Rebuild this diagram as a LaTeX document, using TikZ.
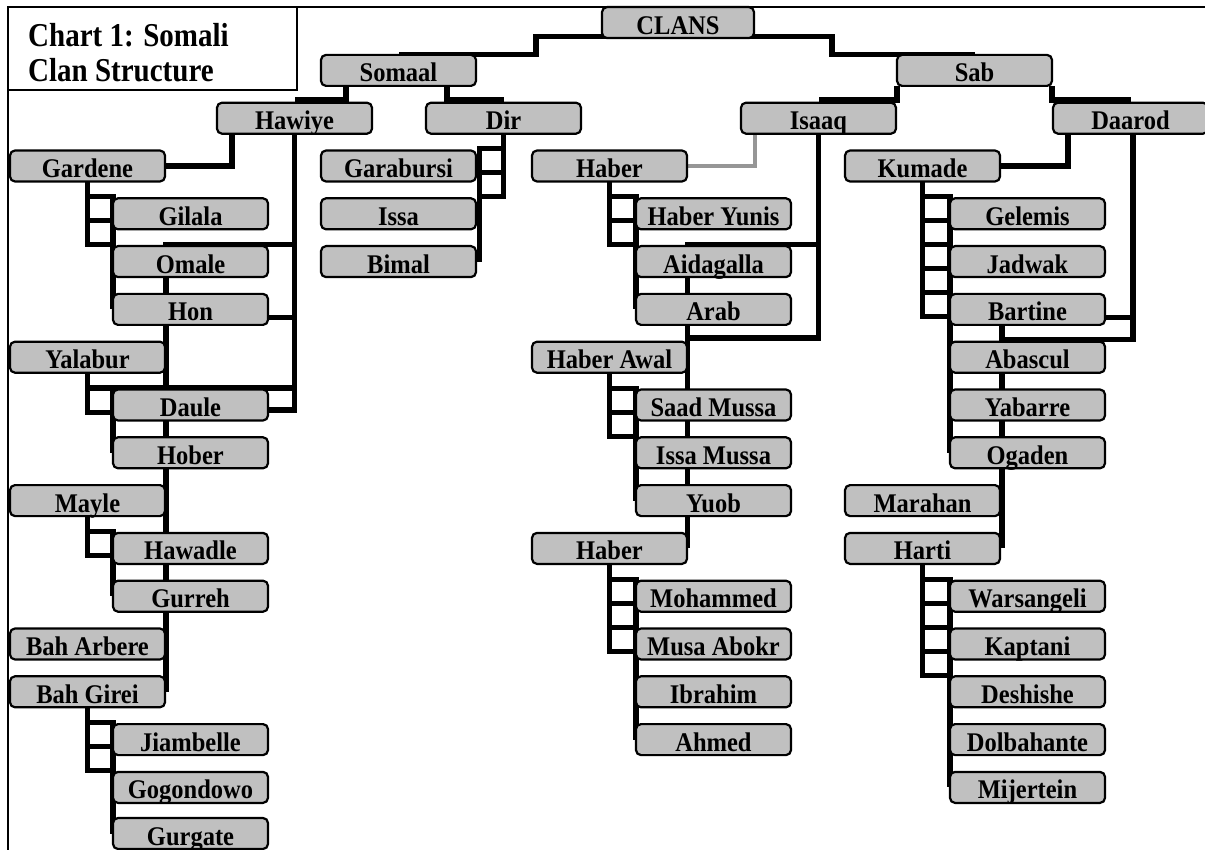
\documentclass[tikz,border=0pt]{standalone}
\usepackage{fontspec}
\setmainfont{Liberation Serif}
\usetikzlibrary{calc,backgrounds}
\definecolor{boxgray}{RGB}{192,192,192}
\definecolor{linkgray}{RGB}{150,150,150}
\newcommand\clanbox[4]{\node[box] (#1) at ({#2+77.5},{22.6+47.8*#3}) {\scalebox{1}[1.1]{#4}};}
\newcommand\clanladder[5]{%
  \draw[conn] (#1.south) -- ($(#1.south |- #2.north)+(0,{24*(#3-1)-1.5})$);
  \draw[conn] ($(#2.north west)+(#5,-1.5)$) -- ($(#2.west |- #4.west)+(#5,0)$);
  \foreach \ri in {1,...,#3} {\draw[rung] ($(#1.south |- #2.north)+(0,{24*(\ri-1)-1.5})$) -- ($(#2.north west)+(#5,{24*(\ri-1)-1.5})$);}
}
\begin{document}
\begin{tikzpicture}[x=1pt,y=-1pt,
  box/.style={draw=black, line width=2.2pt, fill=boxgray, rounded corners=5pt,
    minimum width=155pt, minimum height=31pt, inner sep=0pt, outer sep=0pt,
    text height=26pt, text depth=3pt, font=\fontsize{24.5}{26}\selectfont\bfseries},
  conn/.style={draw=black, line width=5.5pt, line join=miter},
  rung/.style={draw=black, line width=5pt, line cap=rect},
  frame/.style={draw=black, line width=2pt},
  titletext/.style={anchor=base west, inner sep=0pt, font=\fontsize{29}{30}\selectfont\bfseries}]
\useasboundingbox (0,0) rectangle (1205,850);
\begin{scope}
\clip (0,0) rectangle (1205,850);
% frame and title
\draw[frame] (8,850) -- (8,7) -- (1205,7);
\draw[frame] (8,90) -- (297,90) -- (297,7);
\node[titletext] (title1) at (28,47) {\scalebox{1}[1.15]{Chart 1: Somali}};
\node[titletext] (title2) at (28,82) {\scalebox{1}[1.15]{Clan Structure}};
% boxes
\node[box, minimum width=152pt] (CLANS) at (678,22.6) {\scalebox{1}[1.1]{CLANS}};
\clanbox{Somaal}{321}{1}{Somaal}
\clanbox{Sab}{897}{1}{Sab}
\clanbox{Hawiye}{217}{2}{Hawiye}
\clanbox{Dir}{426}{2}{Dir}
\clanbox{Isaaq}{741}{2}{Isaaq}
\clanbox{Daarod}{1053}{2}{Daarod}
\clanbox{Gardene}{10}{3}{Gardene}
\clanbox{Garabursi}{321}{3}{Garabursi}
\clanbox{Haber}{532}{3}{Haber}
\clanbox{Kumade}{845}{3}{Kumade}
\clanbox{Gilala}{113}{4}{Gilala}
\clanbox{Issa}{321}{4}{Issa}
\clanbox{HaberYunis}{636}{4}{Haber Yunis}
\clanbox{Gelemis}{950}{4}{Gelemis}
\clanbox{Omale}{113}{5}{Omale}
\clanbox{Bimal}{321}{5}{Bimal}
\clanbox{Aidagalla}{636}{5}{Aidagalla}
\clanbox{Jadwak}{950}{5}{Jadwak}
\clanbox{Hon}{113}{6}{Hon}
\clanbox{Arab}{636}{6}{Arab}
\clanbox{Bartine}{950}{6}{Bartine}
\clanbox{Yalabur}{10}{7}{Yalabur}
\clanbox{HaberAwal}{532}{7}{Haber Awal}
\clanbox{Abascul}{950}{7}{Abascul}
\clanbox{Daule}{113}{8}{Daule}
\clanbox{SaadMussa}{636}{8}{Saad Mussa}
\clanbox{Yabarre}{950}{8}{Yabarre}
\clanbox{Hober}{113}{9}{Hober}
\clanbox{IssaMussa}{636}{9}{Issa Mussa}
\clanbox{Ogaden}{950}{9}{Ogaden}
\clanbox{Mayle}{10}{10}{Mayle}
\clanbox{Yuob}{636}{10}{Yuob}
\clanbox{Marahan}{845}{10}{Marahan}
\clanbox{Hawadle}{113}{11}{Hawadle}
\clanbox{Haber2}{532}{11}{Haber}
\clanbox{Harti}{845}{11}{Harti}
\clanbox{Gurreh}{113}{12}{Gurreh}
\clanbox{Mohammed}{636}{12}{Mohammed}
\clanbox{Warsangeli}{950}{12}{Warsangeli}
\clanbox{BahArbere}{10}{13}{Bah Arbere}
\clanbox{MusaAbokr}{636}{13}{Musa Abokr}
\clanbox{Kaptani}{950}{13}{Kaptani}
\clanbox{BahGirei}{10}{14}{Bah Girei}
\clanbox{Ibrahim}{636}{14}{Ibrahim}
\clanbox{Deshishe}{950}{14}{Deshishe}
\clanbox{Jiambelle}{113}{15}{Jiambelle}
\clanbox{Ahmed}{636}{15}{Ahmed}
\clanbox{Dolbahante}{950}{15}{Dolbahante}
\clanbox{Gogondowo}{113}{16}{Gogondowo}
\clanbox{Mijertein}{950}{16}{Mijertein}
\node[box] (Gurgate) at (190.5,833.5) {\scalebox{1}[1.1]{Gurgate}};
\end{scope}
\begin{scope}[on background layer]
\fill[white] (0,0) rectangle (1205,850);
% top levels
\draw[conn] ($(CLANS.south west)+(5,-1.5)$) -- ++(-71,0) |- ($(Somaal.north)+(0,-0.3)$);
\draw[conn] ($(CLANS.south east)+(-5,-1.5)$) -- ++(83,0) |- ($(Sab.north)+(0,-0.3)$);
\draw[conn] ($(Somaal.south west)+(25,0)$) |- ($(Hawiye.north)+(0,-2.5)$);
\draw[conn] ($(Somaal.south east)+(-29,0)$) |- ($(Dir.north)+(0,-2.5)$);
\draw[conn] (Sab.south west) |- ($(Isaaq.north)+(0,-2.5)$);
\draw[conn] (Sab.south east) |- ($(Daarod.north)+(0,-2.5)$);
% Hawiye
\draw[conn] ($(Hawiye.south west)+(15,0)$) |- (Gardene.east);
\draw[conn] (Hawiye.south) |- ($(Omale.north west)+(53,-1.5)$) -- ($(BahGirei.east)+(1,0)$);
\draw[conn] (Hawiye.south) |- ($(Daule.east)+(0,5)$);
\draw[conn] ($(Hon.east)+(0,8)$) -| (Hawiye.south);
\draw[conn] ($(Daule.north west)+(-26,-1.5)$) -| (Hawiye.south);
% Isaaq
\draw[conn] (Isaaq.south) |- ($(Aidagalla.north west)+(51.5,-1.5)$) -- ($(Haber2.east)+(0.5,0)$);
\draw[conn] ($(HaberAwal.north east)+(0.5,-3.5)$) -| (Isaaq.south);
\draw[conn, draw=linkgray, line width=4.5pt] ($(Isaaq.south west)+(14,0)$) |- (Haber.east);
% Daarod
\draw[conn] ($(Daarod.south west)+(15,0)$) |- (Kumade.east);
\draw[conn] ($(Daarod.south)+(2.5,0)$) |- ($(Bartine.east)+(0,8)$) -| ($(Harti.east)+(2,0)$);
\draw[conn] ($(Abascul.north west)+(52,-2)$) -| ($(Daarod.south)+(2.5,0)$);
% ladders
\clanladder{Gardene}{Gilala}{3}{Hon}{0}
\clanladder{Yalabur}{Daule}{2}{Hober}{0}
\clanladder{Mayle}{Hawadle}{2}{Gurreh}{0}
\clanladder{BahGirei}{Jiambelle}{3}{Gurgate}{0}
\clanladder{Dir}{Garabursi}{3}{Bimal}{158.5}
\clanladder{Haber}{HaberYunis}{3}{Arab}{0}
\clanladder{HaberAwal}{SaadMussa}{3}{Yuob}{0}
\clanladder{Haber2}{Mohammed}{4}{Ahmed}{0}
\clanladder{Kumade}{Gelemis}{6}{Ogaden}{0}
\clanladder{Harti}{Warsangeli}{5}{Mijertein}{0}
\end{scope}
\end{tikzpicture}
\end{document}
